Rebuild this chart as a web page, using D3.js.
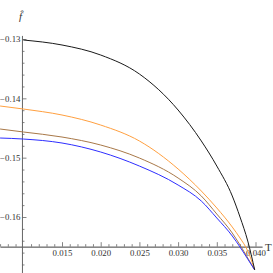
<!DOCTYPE html>
<html>
<head>
<meta charset="utf-8">
<script src="https://cdn.jsdelivr.net/npm/d3@7"></script>
<style>
  body { margin: 0; background: #fff; }
  svg { display: block; }
  .axis text { font-family: "Liberation Serif", "DejaVu Serif", serif; font-size: 8.8px; fill: #333; }
</style>
</head>
<body>
<svg width="273" height="273"></svg>
<script>
// temperature grid
const tVals = [0.007, 0.01, 0.015, 0.02, 0.025, 0.03, 0.033, 0.035, 0.037, 0.038, 0.039, 0.0399];
const blackVals = [null, -0.13017, -0.13101, -0.13270, -0.13590, -0.14197, -0.14719, -0.15141, -0.15646, -0.16000, -0.16405, -0.16893];
const orangeVals = [-0.14129, -0.14180, -0.14281, -0.14450, -0.14719, -0.15191, -0.15562, -0.15848, -0.16169, -0.16354, -0.16573, -0.16893];
const brownVals = [-0.14517, -0.14567, -0.14652, -0.14787, -0.15006, -0.15343, -0.15646, -0.15950, -0.16270, -0.16472, -0.16691, -0.16893];
const blueVals = [-0.14669, -0.14686, -0.14753, -0.14905, -0.15141, -0.15461, -0.15731, -0.16017, -0.16320, -0.16506, -0.16709, -0.16893];

const xMajor = [0.015, 0.02, 0.025, 0.03, 0.035, 0.04];
const yMajor = [-0.16, -0.15, -0.14, -0.13];

const svg = d3.select("svg");

const x = d3.scaleLinear().domain([0.015, 0.04]).range([62, 255.5]);
const y = d3.scaleLinear().domain([-0.13, -0.16]).range([39, 217]);

const x0 = 0.00983, y0 = -0.165; // axes origin

// x axis
const xAx = x.copy().domain([x.invert(0), x.invert(262)]).range([0, 262]);
const xMinor = d3.range(0.007, 0.0405, 0.001).map(v => +v.toFixed(3))
  .filter(v => !xMajor.some(m => Math.abs(m - v) < 1e-9) && Math.abs(v - 0.01) > 1e-9);

const gx = svg.append("g").attr("class", "axis").attr("transform", `translate(0,${y(y0)})`);
gx.append("g")
  .call(d3.axisBottom(xAx).tickValues(xMinor).tickFormat("").tickSizeInner(-2.5).tickSizeOuter(0));
gx.append("g")
  .call(d3.axisBottom(xAx).tickValues(xMajor).tickFormat(d3.format(".3f")).tickSizeInner(-4.5).tickSizeOuter(0).tickPadding(3));

// y axis
const yAx = y.copy().domain([-0.1294, y.invert(273)]).range([y(-0.1294), 273]);
const yMinor = d3.range(-0.168, -0.1295, 0.002).map(v => +v.toFixed(3))
  .filter(v => !yMajor.some(m => Math.abs(m - v) < 1e-9));

const gy = svg.append("g").attr("class", "axis").attr("transform", `translate(${x(x0)},0)`);
gy.append("g")
  .call(d3.axisLeft(yAx).tickValues(yMinor).tickFormat("").tickSizeInner(-2.5).tickSizeOuter(0));
gy.append("g")
  .call(d3.axisLeft(yAx).tickValues(yMajor).tickFormat(d3.format(".2f")).tickSizeInner(-4.5).tickSizeOuter(0).tickPadding(1.5));

svg.selectAll(".axis path, .axis line").attr("stroke", "#666").attr("stroke-width", 0.8);

// axis labels
svg.append("text")
  .attr("x", 265).attr("y", y(y0) + 4)
  .attr("font-family", "Liberation Serif, serif").attr("font-size", 11).attr("fill", "#333")
  .text("T");
svg.append("text")
  .attr("x", x(x0) - 3).attr("y", 20)
  .attr("font-family", "Liberation Serif, serif").attr("font-style", "italic")
  .attr("font-size", 11).attr("fill", "#333")
  .text("f\u0302");

// curves
const series = [
  { vals: orangeVals, color: "#ffa040" },
  { vals: brownVals, color: "#a87848" },
  { vals: blueVals, color: "#2e2eff" },
  { vals: blackVals, color: "#1a1a1a" }
];

const line = d3.line()
  .defined(d => d[1] != null)
  .x(d => x(d[0]))
  .y(d => y(d[1]))
  .curve(d3.curveMonotoneX);

svg.append("g").selectAll("path")
  .data(series)
  .join("path")
  .attr("d", s => line(tVals.map((t, i) => [t, s.vals[i]])))
  .attr("fill", "none")
  .attr("stroke", s => s.color)
  .attr("stroke-width", 1);
</script>
</body>
</html>
